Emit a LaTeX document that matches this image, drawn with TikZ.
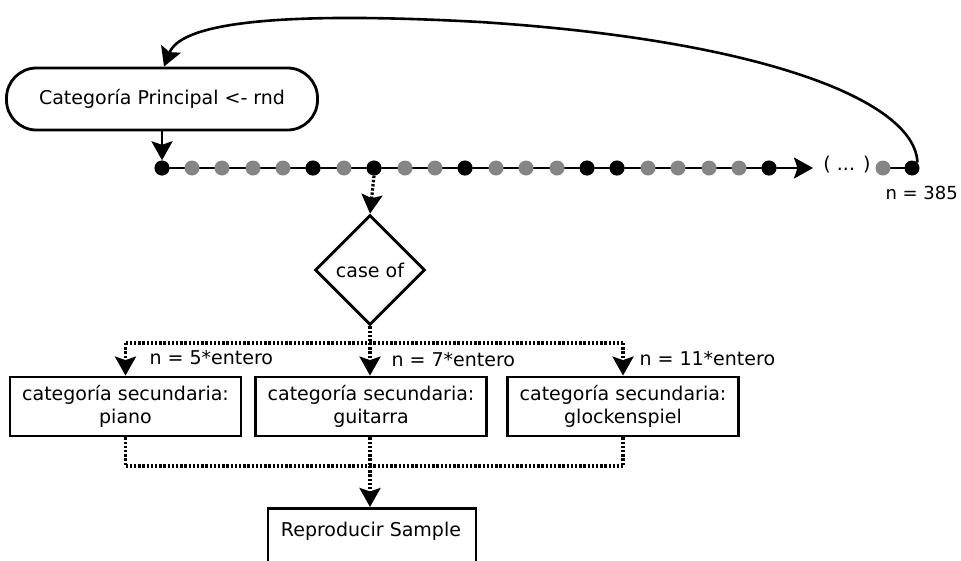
\documentclass[tikz,border=0pt]{standalone}
\usepackage{fontspec}
\setmainfont{DejaVu Sans}
\usetikzlibrary{arrows.meta,shapes.geometric,backgrounds}
\begin{document}
\begin{tikzpicture}[x=1pt,y=-1pt,
  every node/.style={font=\fontsize{19}{23}\selectfont},
  box/.style={draw,line width=2.8pt,minimum width=231,minimum height=59,inner sep=2pt,align=center},
  arr/.style={-{Stealth[length=19pt,width=21pt,inset=3.5pt]}},
  dotline/.style={line width=3.2pt,dash pattern=on 2.4pt off 1.8pt},
  bdot/.style={circle,fill=black,minimum size=15,inner sep=0pt},
  gdot/.style={circle,fill=black!48,minimum size=15,inner sep=0pt},
  thin line/.style={line width=2.6pt}]
\clip (0,0) rectangle (961,560);
% start node
\node[draw,line width=2.8pt,rounded corners=30,minimum width=311,minimum height=62] (stad) at (162,99) {Categoría Principal <- rnd};
% dots
\foreach \i in {0,...,20}{
  \pgfmathtruncatemacro{\xx}{162+\i*30.4}
  \node[gdot] (d\i) at (\xx,168) {};
}
\foreach \i in {0,5,7,10,14,15,20}{
  \pgfmathtruncatemacro{\xx}{162+\i*30.4}
  \node[bdot] (d\i) at (\xx,168) {};
}
\coordinate (tip) at (813,168);
\node (dots) at (847,165) {( ... )};
\node[gdot] (g) at (883,168) {};
\node[bdot] (e) at (912,168) {};
\node[anchor=west,font=\fontsize{18}{22}\selectfont] (n385) at (882,193) {n = 385};
\begin{scope}[on background layer]
  \draw[thin line,arr] (d0.center) -- (tip);
  \draw[thin line] (g.center) -- (e.center);
\end{scope}
\draw[thin line,arr] (stad.south) -- (d0.north);
\draw[thin line,arr] (e.north east) .. controls (915,100) and (760,40) .. (480,22) .. controls (260,10) and (180,26) .. ([xshift=2]stad.north);
% diamond
\node[draw,line width=2.8pt,diamond,minimum width=110,minimum height=110,inner sep=0pt] (dia) at (370,270) {case of};
\draw[dotline,arr] (d7.south) -- (dia.north);
% boxes
\node[box] (b1) at (125.5,406.5) {categoría secundaria:\\piano};
\node[box] (b2) at (371,406.5) {categoría secundaria:\\guitarra};
\node[box] (b3) at (623,406.5) {categoría secundaria:\\glockenspiel};
\coordinate (j) at (370,343);
\coordinate (jl) at (125.5,343);
\coordinate (jr) at (623,343);
\draw[dotline] (dia.south) -- (j);
\draw[dotline] (jl) -- (jr);
\draw[dotline,arr] (jl) -- (b1.north);
\draw[dotline,arr] (j) -- (j |- b2.north);
\draw[dotline,arr] (jr) -- (b3.north);
\node[anchor=west] (l5) at (146,358) {n = 5*entero};
\node[anchor=west] (l7) at (388,360) {n = 7*entero};
\node[anchor=west] (l11) at (636,359) {n = 11*entero};
% bottom
\node[draw,line width=2.8pt,anchor=north,minimum width=208,minimum height=90] (rs) at (372,507) {};
\node (rst) at (371,531) {Reproducir Sample};
\coordinate (k) at (370,466);
\coordinate (kl) at (125.5,466);
\coordinate (kr) at (623,466);
\draw[dotline] (b1.south) -- (kl);
\draw[dotline] (b2.south -| k) -- (k);
\draw[dotline] (b3.south) -- (kr);
\draw[dotline] (kl) -- (kr);
\draw[dotline,arr] (k) -- (k |- rs.north);
\end{tikzpicture}
\end{document}
